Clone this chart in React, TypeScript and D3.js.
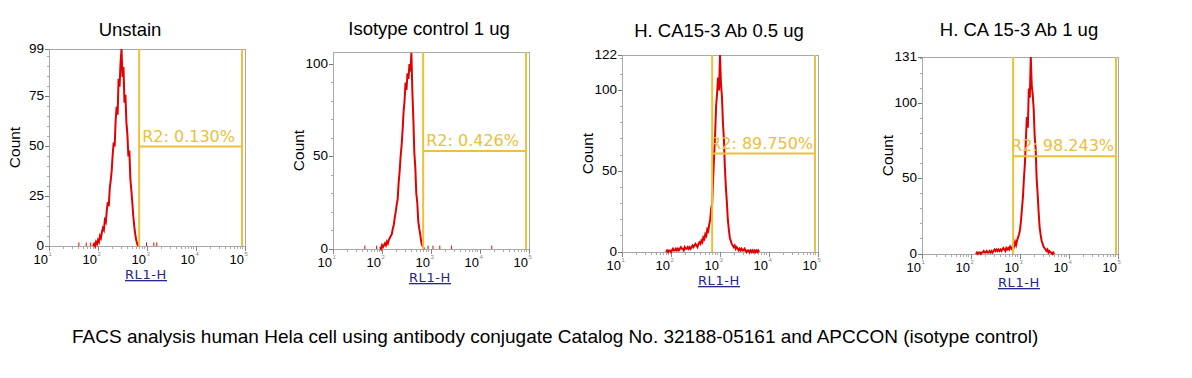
import React from "react";
import * as d3 from "d3";

// ---------- data ----------
const titles = ["Unstain", "Isotype control 1 ug", "H. CA15-3 Ab 0.5 ug", "H. CA 15-3 Ab 1 ug"];
const yMaxes = [99, 106.5, 122, 131];
const yTickValues = [
  [0, 25, 50, 75, 99],
  [0, 50, 100],
  [0, 50, 100, 122],
  [0, 50, 100, 131],
];
const gateLow = [692, 692, 692, 724];
const gateHigh = [87000, 87000, 87000, 91000];
const gateLevel = [50, 53, 61, 65];
const gateLabels = ["R2: 0.130%", "R2: 0.426%", "R2: 89.750%", "R2: 98.243%"];
const xTickExponents = [1, 2, 3, 4, 5];
const xAxisLabel = "RL1-H";
const yAxisLabel = "Count";
const caption =
  "FACS analysis human Hela cell using antibody conjugate Catalog No. 32188-05161 and APCCON (isotype control)";

// log10(channel) of first bin, bins every 0.02 decade
const histStart = [1.9, 1.96, 1.9, 2.1];
const histStep = 0.02;

const hist1 = [
  0, 1, 0, 2, 1, 3, 2, 5, 4, 7, 9, 8, 13, 12, 18, 22, 20, 29, 33, 38, 46, 52, 50, 63, 70, 66, 84, 80, 92, 99,
  85, 90, 72, 76, 62, 56, 45, 48, 34, 28, 22, 15, 10, 6, 3, 1, 0,
];
const hist2 = [
  1, 0, 2, 1, 2, 3, 2, 4, 3, 5, 6, 7, 8, 11, 13, 17, 20, 24, 27, 36, 42, 50, 56, 64, 74, 80, 90, 86, 95, 92,
  100, 96, 106, 85, 70, 52, 44, 30, 25, 15, 11, 8, 4, 2, 1, 0,
];
const hist3 = [
  0, 1, 0, 1, 1, 0, 1, 2, 1, 1, 2, 1, 2, 1, 2, 3, 2, 2, 1, 3, 2, 2, 3, 2, 3, 2, 3, 4, 3, 4, 5, 4, 3, 5, 6, 5,
  7, 6, 9, 8, 11, 10, 14, 13, 17, 20, 27, 30, 45, 60, 72, 90, 98, 108, 100, 122, 104, 96, 80, 70, 52, 40, 31,
  20, 14, 9, 7, 5, 4, 3, 4, 2, 3, 2, 1, 2, 1, 2, 1, 1, 2, 1, 0, 1, 1, 0, 1, 0, 1, 0, 1, 0, 1, 0, 1, 0,
];
const hist4 = [
  0, 1, 0, 1, 1, 0, 1, 1, 2, 1, 1, 2, 1, 1, 2, 1, 2, 1, 2, 3, 2, 3, 2, 3, 2, 3, 2, 3, 4, 3, 2, 4, 3, 4, 3, 5,
  4, 3, 6, 5, 8, 6, 9, 11, 13, 16, 22, 30, 38, 50, 60, 76, 91, 84, 110, 104, 131, 112, 106, 96, 78, 70, 50, 40,
  28, 18, 13, 9, 7, 5, 4, 3, 2, 3, 1, 2, 1, 1, 0, 1, 0,
];
const histograms = [hist1, hist2, hist3, hist4];

// isolated events outside the main peak: [log10(channel), count]
const sparse1: [number, number][] = [[1.61, 1], [1.76, 1], [1.85, 1], [2.99, 1], [3.14, 1], [3.2, 1]];
const sparse2: [number, number][] = [[1.65, 1], [1.89, 1], [2.94, 1], [3.04, 1], [3.18, 1], [3.42, 1], [4.24, 1]];
const sparse3: [number, number][] = [];
const sparse4: [number, number][] = [];
const sparseEvents = [sparse1, sparse2, sparse3, sparse4];

// ---------- layout ----------
const WIDTH = 1192;
const HEIGHT = 378;
const LEFTS = [49, 333, 622, 922];
const BOTTOMS = [246, 249, 252, 254];
const PW = 196;
const PH = 197;
const TITLE_DX = [-17, -2, -1, -1];
const TITLE_Y = [36, 35, 36.5, 36];

const RED = "#e30000";
const GOLD = "#ebc03a";
const FRAME = "#a9a9a9";
const SANS = "'Liberation Sans', Arial, sans-serif";
const VERD = "'DejaVu Sans', Verdana, sans-serif";

function Panel({ i }: { i: number }) {
  const left = LEFTS[i];
  const bottom = BOTTOMS[i];
  const top = bottom - PH;
  const right = left + PW;
  const x = d3.scaleLog().domain([10, 100000]).range([left, right]);
  const y = d3.scaleLinear().domain([0, yMaxes[i]]).range([bottom, top]);

  const pts = histograms[i].map((c, k) => ({ v: Math.pow(10, histStart[i] + k * histStep), c }));
  const line = d3
    .line<{ v: number; c: number }>()
    .x((d) => x(d.v))
    .y((d) => y(d.c));

  const minorX: number[] = [];
  for (let e = 1; e < 5; e++) for (let m = 2; m <= 9; m++) minorX.push(m * Math.pow(10, e));
  const yStep = yMaxes[i] < 100 ? 5 : 10;
  const minorY = d3.range(0, yMaxes[i], yStep);

  const gx1 = x(gateLow[i]);
  const gx2 = x(gateHigh[i]);
  const gy = y(gateLevel[i]);

  return (
    <g>
      <text
        x={(left + right) / 2 + TITLE_DX[i]}
        y={TITLE_Y[i]}
        textAnchor="middle"
        fontFamily={SANS}
        fontSize={18.5}
        fill="#000"
      >
        {titles[i]}
      </text>
      {/* frame */}
      <rect x={left} y={top} width={PW} height={PH} fill="none" stroke={FRAME} strokeWidth={1} shapeRendering="crispEdges" />
      {/* y ticks */}
      {minorY.map((t) => (
        <line key={"my" + t} x1={left - 2} x2={left} y1={y(t)} y2={y(t)} stroke={FRAME} shapeRendering="crispEdges" />
      ))}
      {yTickValues[i].map((t) => (
        <g key={"y" + t}>
          <line x1={left - 4} x2={left} y1={y(t)} y2={y(t)} stroke="#777" shapeRendering="crispEdges" />
          <text x={left - 5} y={y(t) + 3.5} textAnchor="end" fontFamily={SANS} fontSize={13.5} fill="#000">
            {t}
          </text>
        </g>
      ))}
      {/* x ticks */}
      {minorX.map((t) => (
        <line key={"mx" + t} x1={x(t)} x2={x(t)} y1={bottom} y2={bottom + 3} stroke={FRAME} shapeRendering="crispEdges" />
      ))}
      {xTickExponents.map((e) => {
        const tx = x(Math.pow(10, e));
        return (
          <g key={"x" + e}>
            <line x1={tx} x2={tx} y1={bottom} y2={bottom + 5} stroke="#888" shapeRendering="crispEdges" />
            <text x={tx - 1} y={bottom + 18} textAnchor="end" fontFamily={SANS} fontSize={13} fill="#000">
              10
            </text>
            <text x={tx - 0.5} y={bottom + 10} fontFamily={SANS} fontSize={6} fill="#888">
              {e}
            </text>
          </g>
        );
      })}
      {/* axis labels */}
      <text
        transform={`translate(${left - 29},${(top + bottom) / 2}) rotate(-90)`}
        textAnchor="middle"
        fontFamily={SANS}
        fontSize={15.5}
        fill="#000"
      >
        {yAxisLabel}
      </text>
      <text
        x={(left + right) / 2 - 1}
        y={bottom + 33}
        textAnchor="middle"
        fontFamily={VERD}
        fontSize={13}
        fill="#26268c"
        textDecoration="underline"
        letterSpacing={0.6}
      >
        {xAxisLabel}
      </text>
      {/* histogram */}
      <path d={line(pts) || ""} fill="none" stroke={RED} strokeWidth={2} strokeLinejoin="miter" />
      {sparseEvents[i].map(([lv, c], k) => (
        <line
          key={"s" + k}
          x1={x(Math.pow(10, lv))}
          x2={x(Math.pow(10, lv))}
          y1={y(0)}
          y2={y(c) - 1.5}
          stroke={RED}
          strokeWidth={1}
        />
      ))}
      {/* gate */}
      <line x1={gx1} x2={gx1} y1={top} y2={bottom} stroke={GOLD} strokeWidth={2} />
      <line x1={gx2} x2={gx2} y1={top} y2={bottom} stroke={GOLD} strokeWidth={2} />
      <line x1={gx1} x2={gx2} y1={gy} y2={gy} stroke={GOLD} strokeWidth={2} />
      <text
        x={(gx1 + gx2) / 2 - 2}
        y={gy - 5}
        textAnchor="middle"
        fontFamily={VERD}
        fontSize={16}
        fill={GOLD}
      >
        {gateLabels[i]}
      </text>
    </g>
  );
}

export default function App() {
  return (
    <svg
      width={WIDTH}
      height={HEIGHT}
      style={{ position: "absolute", left: 0, top: 0, background: "#fff" }}
    >
      <rect x={0} y={0} width={WIDTH} height={HEIGHT} fill="#fff" />
      {titles.map((_, i) => (
        <Panel key={i} i={i} />
      ))}
      <text x={72} y={343} fontFamily={SANS} fontSize={19} fill="#000">
        {caption}
      </text>
    </svg>
  );
}
